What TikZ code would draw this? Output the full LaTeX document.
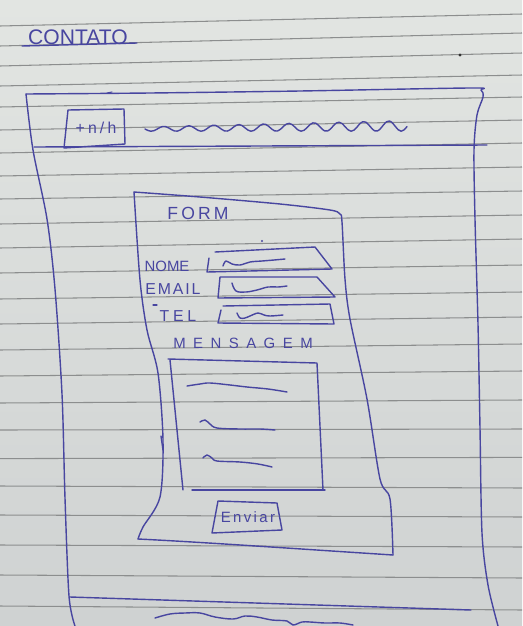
\documentclass[tikz,border=0pt]{standalone}
\usepackage{fontspec}
\newfontfamily\hand{Liberation Sans}
\definecolor{paperT}{RGB}{226,229,226}
\definecolor{paperB}{RGB}{207,210,210}
\definecolor{rulecol}{RGB}{140,142,142}
\definecolor{inkcol}{RGB}{72,70,160}
\begin{document}
\begin{tikzpicture}[x=0.02cm,y=-0.02cm,
  ink/.style={draw=inkcol, line width=0.8pt, line cap=round, line join=round},
  rule/.style={draw=rulecol, line width=0.6pt},
  hw/.style={text=inkcol, inner sep=0pt, font=\hand}]
% sheet of ruled paper
\useasboundingbox (0,0) rectangle (522,626);
\fill[top color=paperT, bottom color=paperB] (0,0) rectangle (522,626);
\foreach \l/\r in {26/14,46/33,66/53,86/75,107/97,130/120,153/143,176/167,
  199/191,224/215,248/239,273/265,299/292,324/317,350/344,376/371,403/400,
  430/429,458.6/457.4,486/488,515/517,545/547,575/578,606/610}
  \draw[rule] (0,\l) -- (522,\r);
% stray pen marks
\fill[black!80] (460,55) circle (1.6);
\fill[inkcol] (262,241) circle (1.1);
\draw[ink, line width=0.6pt] (107,93) -- (112,92);

% page title
\node[hw, font=\hand\fontsize{12}{12}\selectfont] (title) at (78,37) {CONTATO};
\coordinate (ulA) at (22,46);
\coordinate (ulB) at (137,43);
\draw[ink] (ulA) -- (ulB);

% page frame
\draw[ink] plot[smooth, tension=0.5] coordinates {(26,94) (150,93) (300,91)
  (470,88) (481,90) (483,97) (477,115) (474,150) (475,219) (478,324)
  (480,428) (482,533) (488,585) (498,626)};
\draw[ink] plot[smooth, tension=0.5] coordinates {(26,94) (33,150) (47,219)
  (55,289) (62,394) (65,498) (69,596) (75,626)};

% header: logo box, title scribble, separator
\draw[ink] (68,110) -- (124,109) -- (125,144) -- (64,148) -- cycle;
\node[hw, font=\hand\fontsize{9}{9}\selectfont\addfontfeature{LetterSpace=20}] (logo) at (96,128) {+n/h};
\draw[ink] plot[smooth, domain=145:407, samples=90]
  (\x, {129 - 0.012*(\x-145) + (2.2+0.012*(\x-145))*sin(14.4*(\x-145))});
\draw[ink] (34,147) -- (487,145);

% form panel
\draw[ink] plot[smooth, tension=0.5] coordinates {(134,192) (200,197) (280,204)
  (330,210) (340,214) (342,222) (345,279) (350,319) (367,399) (380,479)
  (390,499) (393,555)};
\draw[ink] (393,555) .. controls (300,549) and (200,542) .. (138,539);
\draw[ink] plot[smooth, tension=0.5] coordinates {(138,539) (143,527) (160,497)
  (163,440) (158,373) (147,330) (140,280) (134,192)};
\draw[ink] (161,436) -- (163,450);
\node[hw, font=\hand\fontsize{10}{10}\selectfont\addfontfeature{LetterSpace=18}] (form) at (198,213) {FORM};

% labels
\node[hw, font=\hand\fontsize{8.5}{8.5}\selectfont] (nome) at (167,266) {NOME};
\node[hw, font=\hand\fontsize{9}{9}\selectfont\addfontfeature{LetterSpace=12}] (email) at (173,289) {EMAIL};
\draw[ink, line width=0.6pt] (153,305) -- (157,305);
\node[hw, font=\hand\fontsize{9}{9}\selectfont\addfontfeature{LetterSpace=24}] (tel) at (178,316) {TEL};
\node[hw, font=\hand\fontsize{8.5}{8.5}\selectfont\addfontfeature{LetterSpace=50}] (msg) at (243,343) {MENSAGEM};

% name field
\draw[ink] (209,258) -- (207,272) -- (332,269) -- (315,247) -- (215,252);
\draw[ink] plot[smooth, tension=0.6] coordinates {(223,266) (226,261) (232,264)
  (240,265) (250,262) (262,261) (274,260) (285,259)};
% email field
\draw[ink] (220,277) -- (218,298) -- (335,297) -- (317,277) -- cycle;
\draw[ink] plot[smooth, tension=0.6] coordinates {(232,283) (236,291) (246,292)
  (257,290) (268,287) (278,287) (287,286)};
% phone field
\draw[ink] (221,310) -- (218,323) -- (334,324) -- (330,304) -- (223,306);
\draw[ink] plot[smooth, tension=0.6] coordinates {(237,313) (240,318) (245,318)
  (250,316) (258,313) (264,315) (270,316) (283,315)};

% message area
\draw[ink] (168,359) -- (317,363) -- (323,490);
\draw[ink] (192,490) -- (325,490);
\draw[ink] (170,360) -- (183,490);
\draw[ink] plot[smooth, tension=0.6] coordinates {(187,386) (200,384) (210,383)
  (230,385) (247,387) (268,389) (287,392)};
\draw[ink] plot[smooth, tension=0.6] coordinates {(200,422) (205,420) (210,424)
  (217,428) (240,429) (260,429) (275,430)};
\draw[ink] plot[smooth, tension=0.6] coordinates {(203,458) (207,455) (212,458)
  (217,461) (240,462) (258,464) (272,467)};

% send button
\draw[ink] (218,501) -- (277,503) -- (282,530) -- (212,533) -- cycle;
\node[hw, font=\hand\fontsize{8.5}{8.5}\selectfont\addfontfeature{LetterSpace=16}] (send) at (248,517) {Enviar};

% footer
\coordinate (ftA) at (70,597);
\coordinate (ftB) at (471,610);
\draw[ink] (ftA) -- (ftB);
\draw[ink] plot[smooth, tension=0.6] coordinates {(155,618) (170,614) (185,613)
  (200,613) (215,617) (233,619) (245,616) (257,617) (272,620) (287,621)
  (293,625) (302,622) (310,622) (325,623) (340,623) (353,625)};
\end{tikzpicture}
\end{document}
